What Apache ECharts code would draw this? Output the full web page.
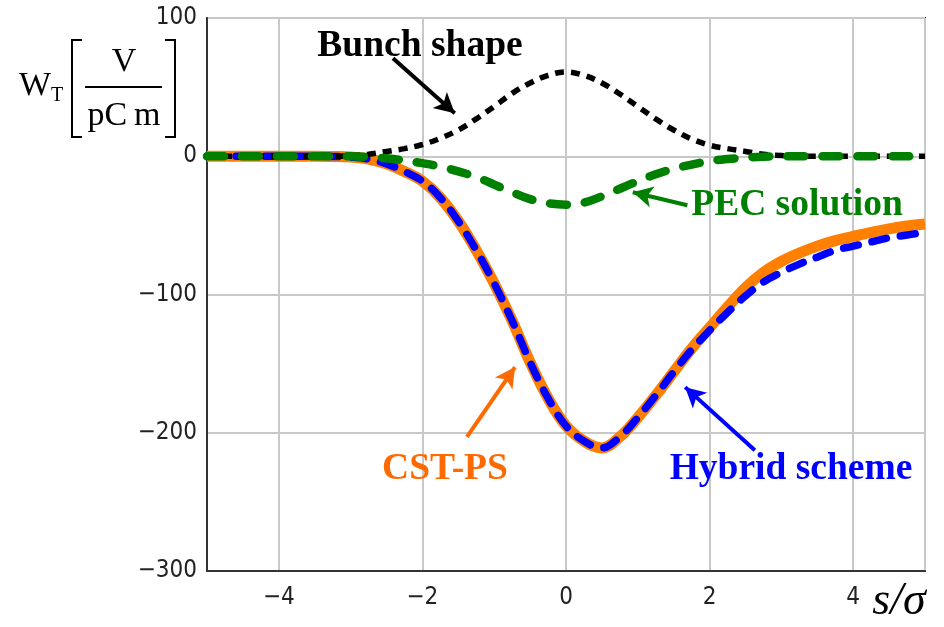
<!DOCTYPE html>
<html>
<head>
<meta charset="utf-8">
<script src="https://cdn.jsdelivr.net/npm/echarts@6/dist/echarts.min.js"></script>
<style>html,body{margin:0;padding:0;background:#fff}#c{width:944px;height:627px}</style>
</head>
<body>
<div id="c"></div>
<script>
// s / sigma sample positions
var sValues = [-5,-4.75,-4.5,-4.25,-4,-3.75,-3.5,-3.25,-3,-2.75,-2.5,-2.25,-2,-1.75,-1.5,-1.25,-1,-0.75,-0.5,-0.25,0,0.25,0.5,0.75,1,1.25,1.5,1.75,2,2.25,2.5,2.75,3,3.25,3.5,3.75,4,4.25,4.5,4.75,5];
// CST-PS wake (V/pC/m)
var cstValues = [0,0,0,0,0,0,0,-0.2,-0.6,-2,-5.5,-11,-18,-30,-47,-68,-92,-119,-149,-175,-195,-206,-211,-203,-189,-173,-156,-139,-124,-109,-95,-84,-76,-70,-65,-61,-58,-55,-52.5,-50.5,-49];
// Hybrid scheme wake
var hybridValues = [0,0,0,0,0,0,0,-0.2,-0.6,-2,-5.5,-11,-18,-30,-47,-68,-92,-119,-149,-175,-195,-206,-211,-203,-189,-173,-156,-140,-126,-113,-101,-91,-84,-78,-73,-68,-65,-62,-59,-57,-55];
// PEC solution wake
var pecValues = [0,0,0,0,0,0,0,0,0,-0.5,-1.5,-3,-5,-7.5,-11,-15,-20.5,-26,-31,-34,-35,-33.5,-29,-23.5,-18,-13,-9,-6,-3.5,-2,-1,-0.3,0,0,0,0,0,0,0,0,0];
// Bunch shape (scaled)
var bunchValues = [0,0,0,0,0,0,0,0,0.5,1.5,3.5,5.5,8.5,13,19,27,36,45.5,53,58.5,61,58.5,53,45,36,27,19,12.5,8,5.5,3.5,1.5,0.5,0,0,0,0,0,0,0,0];
var xTicks = [-4,-2,0,2,4];
var yTicks = [-300,-200,-100,0,100];

function pairs(vals){ return sValues.map(function(s,i){ return [s, vals[i]]; }); }

var chart = echarts.init(document.getElementById('c'), null, {renderer:'canvas'});
var tickFont = "'Liberation Sans Narrow','DejaVu Sans Condensed','Liberation Sans',sans-serif";
var serif = "'Liberation Serif','DejaVu Serif',serif";

function arrowLine(from, to, color){
  return {
    silent: true,
    symbol: ['none','arrow'],
    symbolSize: [16, 20],
    label: {show:false},
    lineStyle: {color: color, width: 4, type: 'solid'},
    emphasis: {disabled: true},
    data: [[{coord: from}, {coord: to}]]
  };
}

var option = {
  animation: false,
  backgroundColor: '#fff',
  grid: {left: 207, right: 19, top: 18, bottom: 56, show: true, borderColor: '#333', borderWidth: 2, backgroundColor: 'transparent'},
  xAxis: {
    type: 'value', min: -5, max: 5, splitNumber: 5,
    axisLine: {show: true, onZero: false, lineStyle: {color: '#333', width: 2}},
    axisTick: {show: false},
    axisLabel: {showMinLabel: false, showMaxLabel: false, margin: 15, color: '#222', fontSize: 24, fontFamily: tickFont,
      formatter: function(v){ return xTicks.indexOf(v) >= 0 ? String(v).replace('-', '\u2212') : ''; }},
    splitLine: {show: true, lineStyle: {color: '#c8c8c8', width: 2}}
  },
  yAxis: {
    type: 'value', min: -300, max: 100, interval: 100,
    axisLine: {show: true, onZero: false, lineStyle: {color: '#333', width: 2}},
    axisTick: {show: false},
    axisLabel: {margin: 10, color: '#222', fontSize: 24, fontFamily: tickFont,
      formatter: function(v){ return yTicks.indexOf(v) >= 0 ? String(v).replace('-', '\u2212') : ''; }},
    splitLine: {show: true, lineStyle: {color: '#c8c8c8', width: 2}}
  },
  series: [
    {name: 'CST-PS', type: 'line', data: pairs(cstValues), showSymbol: false, smooth: 0.4, z: 2,
      lineStyle: {color: '#FF8000', width: 11, cap: 'butt', join: 'round'},
      markLine: arrowLine([-1.38, -203], [-0.71, -152.5], '#FF6A00')},
    {name: 'Hybrid scheme', type: 'line', data: pairs(hybridValues), showSymbol: false, smooth: 0.4, z: 3,
      lineStyle: {color: '#0000FF', width: 7.5, type: [15, 14], cap: 'round', join: 'round'},
      markLine: arrowLine([2.63, -212.6], [1.66, -167], '#0000FF')},
    {name: 'Bunch shape', type: 'line', data: pairs(bunchValues), showSymbol: false, smooth: 0.4, z: 4,
      lineStyle: {color: '#000', width: 5.5, type: [9, 7], cap: 'butt'},
      markLine: arrowLine([-2.41, 70.9], [-1.55, 31.1], '#000')},
    {name: 'PEC solution', type: 'line', data: pairs(pecValues), showSymbol: false, smooth: 0.4, z: 5,
      lineStyle: {color: '#008000', width: 8.5, type: [17, 18], cap: 'round', join: 'round'},
      markLine: arrowLine([1.69, -35.4], [0.93, -26], '#008000')}
  ],
  graphic: [
    {type: 'text', z: 100, style: {text: 'Bunch shape', x: 420, y: 46, align: 'center', verticalAlign: 'middle', font: 'bold 37.5px ' + serif, fill: '#000'}},
    {type: 'text', z: 100, style: {text: 'PEC solution', x: 797, y: 205, align: 'center', verticalAlign: 'middle', font: 'bold 37.5px ' + serif, fill: '#008000'}},
    {type: 'text', z: 100, style: {text: 'CST-PS', x: 445, y: 469, align: 'center', verticalAlign: 'middle', font: 'bold 37.5px ' + serif, fill: '#FF6A00'}},
    {type: 'text', z: 100, style: {text: 'Hybrid scheme', x: 791, y: 469, align: 'center', verticalAlign: 'middle', font: 'bold 37.5px ' + serif, fill: '#0000FF'}},
    // y-axis title W_T [V / pCm]
    {type: 'text', style: {text: 'W', x: 35, y: 86, align: 'center', verticalAlign: 'middle', font: '34px ' + serif, fill: '#000'}},
    {type: 'text', style: {text: 'T', x: 57, y: 96, align: 'center', verticalAlign: 'middle', font: '20px ' + serif, fill: '#000'}},
    {type: 'polyline', shape: {points: [[82,40],[72,40],[72,137],[82,137]]}, style: {stroke: '#000', lineWidth: 2, fill: null}},
    {type: 'polyline', shape: {points: [[165,40],[175,40],[175,137],[165,137]]}, style: {stroke: '#000', lineWidth: 2, fill: null}},
    {type: 'line', shape: {x1: 85, y1: 87, x2: 162, y2: 87}, style: {stroke: '#000', lineWidth: 2}},
    {type: 'text', style: {text: 'V', x: 124, y: 62, align: 'center', verticalAlign: 'middle', font: '34px ' + serif, fill: '#000'}},
    {type: 'text', style: {text: 'pC\u2009m', x: 124, y: 116, align: 'center', verticalAlign: 'middle', font: '34px ' + serif, fill: '#000'}},
    // x-axis title s/sigma
    {type: 'text', style: {text: 's/\u03c3', x: 899, y: 602, align: 'center', verticalAlign: 'middle', font: 'italic 46px ' + serif, fill: '#000'}}
  ]
};
chart.setOption(option);
</script>
</body>
</html>
